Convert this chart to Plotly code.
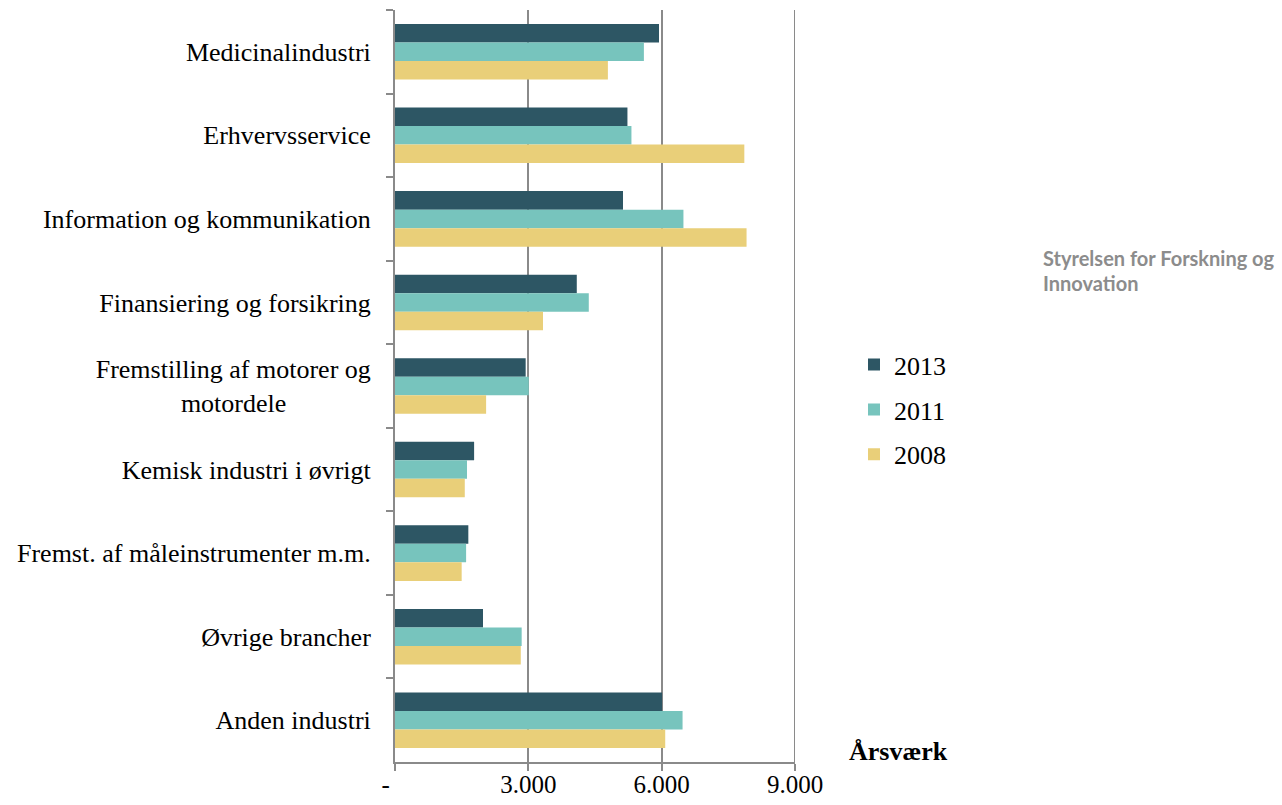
import plotly.graph_objects as go

categories = [
    "Medicinalindustri",
    "Erhvervsservice",
    "Information og kommunikation",
    "Finansiering og forsikring",
    "Fremstilling af motorer og<br>motordele" + "\u00a0" * 13,
    "Kemisk industri i øvrigt",
    "Fremst. af måleinstrumenter m.m.",
    "Øvrige brancher",
    "Anden industri",
]
v2013 = [5940, 5230, 5130, 4090, 2940, 1780, 1650, 1980, 6010]
v2011 = [5600, 5320, 6490, 4360, 3010, 1620, 1600, 2850, 6470]
v2008 = [4790, 7860, 7910, 3330, 2050, 1570, 1500, 2830, 6080]
series_names = ["2013", "2011", "2008"]
colors = ["#2d5664", "#77c4bd", "#e9cf79"]
tick_vals = [0, 3000, 6000, 9000]
tick_text = ["-" + "\u00a0" * 3, "3.000", "6.000", "9.000"]

serif = "Liberation Serif"
grid_color = "#8a8a8a"
fig = go.Figure()
for name, vals, col in zip(series_names, [v2013, v2011, v2008], colors):
    fig.add_trace(go.Bar(
        y=categories, x=vals, name=name, orientation="h",
        marker=dict(color=col, line=dict(width=0)),
        legendgroup=name,
    ))

# gridline at the right end of the axis (plotly drops edge gridlines)
fig.add_shape(type="line", xref="x", yref="paper", x0=tick_vals[-1], x1=tick_vals[-1],
              y0=0, y1=1, line=dict(color=grid_color, width=2), layer="below")

fig.update_layout(
    width=1282, height=805,
    margin=dict(l=395, r=487, t=10, b=43, autoexpand=False),
    paper_bgcolor="white", plot_bgcolor="white",
    barmode="group", bargap=0.335, bargroupgap=0,
    font=dict(family=serif, size=26, color="black"),
    showlegend=True,
    legend=dict(
        x=1.1475, y=0.5596, xanchor="left", yanchor="top",
        traceorder="grouped", tracegroupgap=8,
        font=dict(family=serif, size=26, color="black"),
        bgcolor="rgba(0,0,0,0)",
    ),
    xaxis=dict(
        range=[0, 9000], tickvals=tick_vals, ticktext=tick_text,
        showgrid=True, gridcolor=grid_color, gridwidth=2,
        showline=True, linecolor=grid_color, linewidth=2,
        ticks="outside", ticklen=7, tickwidth=2, tickcolor=grid_color,
        tickfont=dict(family=serif, size=25, color="black"),
        zeroline=False, automargin=False, ticklabelstandoff=-8,
    ),
    yaxis=dict(
        autorange="reversed",
        showline=True, linecolor=grid_color, linewidth=2,
        ticks="outside", ticklen=7, tickwidth=2, tickcolor=grid_color,
        tickson="boundaries", ticklabelstandoff=17,
        tickfont=dict(family=serif, size=26, color="black"),
        showgrid=False, automargin=False,
    ),
    annotations=[
        dict(text="<b>Årsværk</b>", xref="paper", yref="paper", x=1.2575, y=0.0133,
             xanchor="center", yanchor="middle", showarrow=False,
             font=dict(family=serif, size=26, color="black")),
        dict(text="<b>Styrelsen for Forskning og</b>", xref="paper", yref="paper",
             x=1.615, y=(762 - 258) / 752, xanchor="left", yanchor="middle", showarrow=False,
             font=dict(family="Lato", size=20, color="#8c8c8c")),
        dict(text="<b>Innovation</b>", xref="paper", yref="paper",
             x=1.615, y=(762 - 283) / 752, xanchor="left", yanchor="middle", showarrow=False,
             font=dict(family="Lato", size=20, color="#8c8c8c")),
    ],
)

fig.write_html("out.html")
